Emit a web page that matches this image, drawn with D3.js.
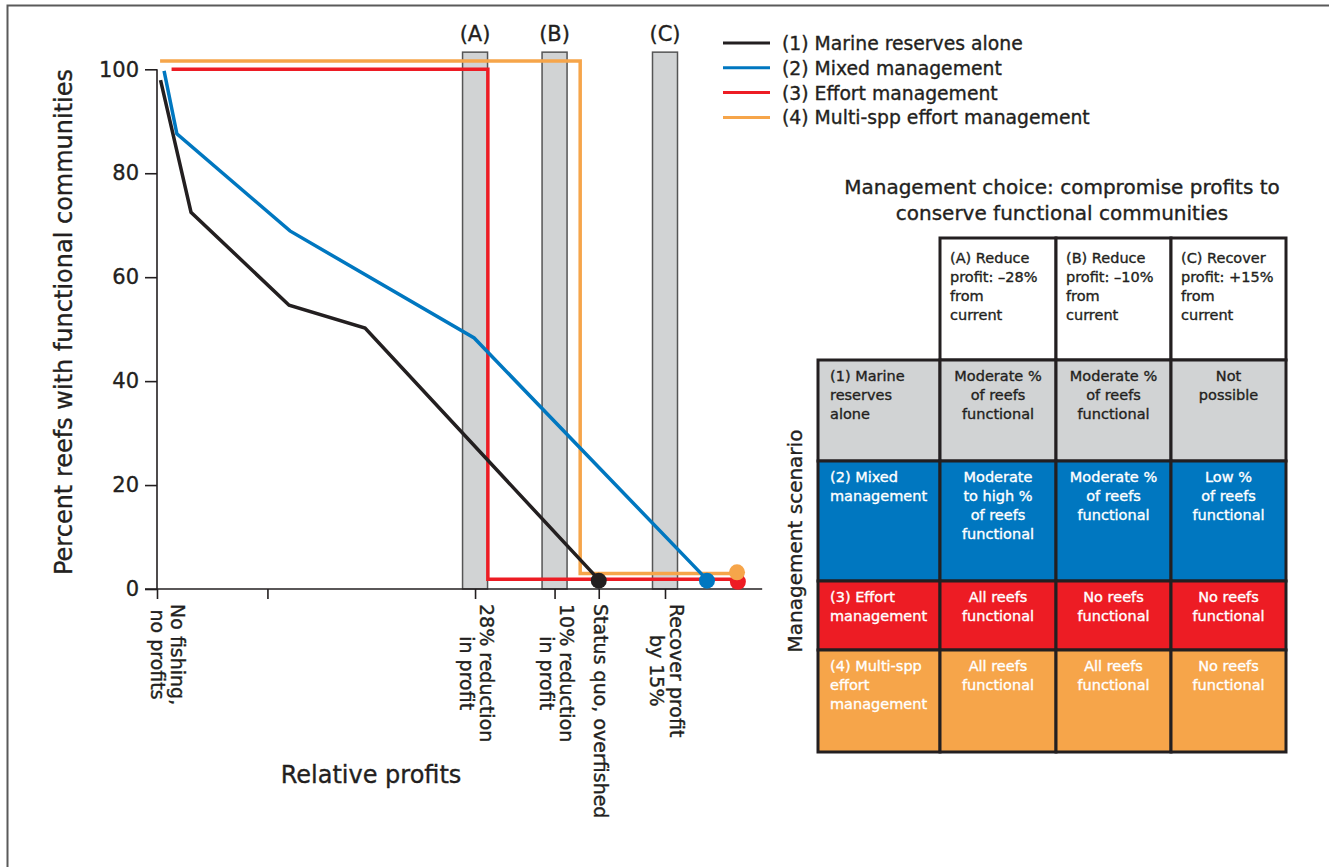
<!DOCTYPE html>
<html>
<head>
<meta charset="utf-8">
<script src="https://cdn.jsdelivr.net/npm/d3@7"></script>
<style>
	body { margin: 0; background: #fff; }
	svg { display: block; font-family: 'DejaVu Sans', 'Liberation Sans', Arial, sans-serif; }
	text { paint-order: stroke; stroke-width: 0.35px; stroke: currentColor; }
</style>
</head>
<body>
<svg id="chart" width="1329" height="867"></svg>
<script>
// relative profits: 0 = no fishing, 1 = status quo
const profitTicks = [0, 0.25, 0.72, 0.9, 1.0, 1.15]
const profitTickLabels = [
	['No fishing,', 'no profits'],
	[],
	['28% reduction', 'in profit'],
	['10% reduction', 'in profit'],
	['Status quo, overfished'],
	['Recover profit', 'by 15%']
]
const reefTicks = [0, 20, 40, 60, 80, 100]

const choiceLabels = ['(A)', '(B)', '(C)']
const choiceProfits = [0.72, 0.9, 1.15]
const choiceBarTop = 103.3

const scenarioNames = ['(1) Marine reserves alone', '(2) Mixed management', '(3) Effort management', '(4) Multi-spp effort management']
const scenarioColors = ['#231f20', '#0077c0', '#ed1c24', '#f6a54a']

// [relative profit, % reefs functional]
const marineReserves = [[0.008, 97.9], [0.077, 72.5], [0.299, 54.6], [0.471, 50.2], [1.0, 1.8]]
const mixedManagement = [[0.016, 99.7], [0.045, 87.6], [0.301, 68.9], [0.718, 48.3], [1.245, 1.8]]
const effortManagement = [[0.033, 100], [0.749, 100], [0.749, 1.9], [1.315, 1.9]]
const multiSppEffort = [[0.007, 101.6], [0.958, 101.6], [0.958, 3.0], [1.313, 3.0]]
const endPoints = [[1.0, 1.6], [1.245, 1.6], [1.315, 1.4], [1.313, 3.2]]

const tableTitle = ['Management choice: compromise profits to', 'conserve functional communities']
const columnHeaders = [
	['(A) Reduce', 'profit: \u201328%', 'from', 'current'],
	['(B) Reduce', 'profit: \u201310%', 'from', 'current'],
	['(C) Recover', 'profit: +15%', 'from', 'current']
]
const rowHeaders = [
	['(1) Marine', 'reserves', 'alone'],
	['(2) Mixed', 'management'],
	['(3) Effort', 'management'],
	['(4) Multi-spp', 'effort', 'management']
]
const rowColors = ['#d1d3d4', '#0077c0', '#ed1c24', '#f6a54a']
const rowTextColors = ['#231f20', '#fff', '#fff', '#fff']
const cellTexts = [
	[['Moderate %', 'of reefs', 'functional'], ['Moderate %', 'of reefs', 'functional'], ['Not', 'possible']],
	[['Moderate', 'to high %', 'of reefs', 'functional'], ['Moderate %', 'of reefs', 'functional'], ['Low %', 'of reefs', 'functional']],
	[['All reefs', 'functional'], ['No reefs', 'functional'], ['No reefs', 'functional']],
	[['All reefs', 'functional'], ['All reefs', 'functional'], ['No reefs', 'functional']]
]

const ink = '#231f20'
const svg = d3.select('#chart').style('color', ink)

// frame
svg.append('path').attr('d', 'M7.5,867 V5.5 H1329').attr('fill', 'none').attr('stroke', '#5a5a5a').attr('stroke-width', 2)

const x = d3.scaleLinear().domain([0, 1.15]).range([157, 665])
const y = d3.scaleLinear().domain([0, 100]).range([589, 69.3])
const xEnd = 1.37
const yTickLen = 12
const firstLabelShift = 9

// bars
const bars = svg.append('g')
bars.selectAll('rect').data(choiceProfits).enter().append('rect')
	.attr('x', d => x(d) - 12.5).attr('width', 25)
	.attr('y', y(choiceBarTop)).attr('height', y(0) - y(choiceBarTop))
	.attr('fill', '#d1d3d4').attr('stroke', '#555').attr('stroke-width', 1.5)
bars.selectAll('text').data(choiceLabels).enter().append('text')
	.attr('x', (d, i) => x(choiceProfits[i])).attr('y', 41)
	.attr('text-anchor', 'middle').attr('font-size', 21)
	.attr('fill', ink).text(d => d)

// axes
const yAxis = d3.axisLeft(y).tickValues(reefTicks).tickSize(yTickLen).tickPadding(6)
const gy = svg.append('g').attr('transform', `translate(${x(0)},0)`).call(yAxis)
gy.select('.domain').attr('d', `M0,${y(100)}V${y(0)}`)

const xAxis = d3.axisBottom(x).tickValues(profitTicks).tickSize(10).tickFormat('')
const gx = svg.append('g').attr('transform', `translate(0,${y(0)})`).call(xAxis)
gx.select('.domain').attr('d', `M${x(0) - yTickLen},0H${x(xEnd)}`)

svg.selectAll('.domain, .tick line').attr('stroke', ink).attr('stroke-width', 1.6)
gy.attr('font-family', null).attr('font-size', null)
gy.selectAll('.tick text').attr('font-size', 21).attr('fill', ink)

// rotated tick labels
const tickLabelG = svg.append('g')
profitTicks.forEach((v, i) => {
	const lines = profitTickLabels[i]
	if (!lines.length) return
	const shift = i === 0 ? firstLabelShift : 0
	const t = tickLabelG.append('text')
		.attr('transform', `translate(${x(v) + shift},604) rotate(90)`)
		.attr('font-size', 19).attr('fill', ink)
		.attr('text-anchor', 'middle')
	const spans = t.selectAll('tspan').data(lines).enter().append('tspan')
		.attr('y', (d, j) => (j - (lines.length - 1) / 2) * 20 + 5)
		.text(d => d)
	const maxLen = d3.max(spans.nodes(), n => n.getComputedTextLength())
	spans.attr('x', maxLen / 2)
})

svg.append('text')
	.attr('x', 371).attr('y', 783).attr('text-anchor', 'middle')
	.attr('font-size', 24).attr('fill', ink)
	.text('Relative profits')
svg.append('text')
	.attr('transform', 'translate(72,322) rotate(-90)').attr('text-anchor', 'middle')
	.attr('font-size', 24).attr('fill', ink)
	.text('Percent reefs with functional communities')

// scenario lines
const line = d3.line().x(d => x(d[0])).y(d => y(d[1]))
const series = [marineReserves, mixedManagement, effortManagement, multiSppEffort]
const drawOrder = [2, 3, 1, 0]
const linesG = svg.append('g')
drawOrder.forEach(i => {
	linesG.append('path').datum(series[i]).attr('d', line)
		.attr('fill', 'none').attr('stroke', scenarioColors[i])
		.attr('stroke-width', 3.5).attr('stroke-linejoin', 'miter')
})
linesG.selectAll('circle').data(drawOrder).enter().append('circle')
	.attr('cx', i => x(endPoints[i][0])).attr('cy', i => y(endPoints[i][1]))
	.attr('r', 8).attr('fill', i => scenarioColors[i])

// legend
const legend = svg.append('g').attr('transform', 'translate(723,43)')
const items = legend.selectAll('g').data(scenarioNames).enter().append('g')
	.attr('transform', (d, i) => `translate(0,${i * 24.8})`)
items.append('line').attr('x1', 0).attr('x2', 47)
	.attr('stroke', (d, i) => scenarioColors[i]).attr('stroke-width', 3)
items.append('text').attr('x', 59).attr('y', 7)
	.attr('font-size', 18.8).attr('fill', ink).text(d => d)

// table
svg.append('g').selectAll('text').data(tableTitle).enter().append('text')
	.attr('x', 1062).attr('y', (d, i) => 194 + i * 26).attr('text-anchor', 'middle')
	.attr('font-size', 20).attr('fill', ink).text(d => d)

const colEdges = [818, 940, 1056, 1171, 1286]
const rowEdges = [238, 360, 461, 581, 650, 752]
const table = svg.append('g')

function cellLines(g, lines, cx, top, anchor, color) {
	const t = g.append('text').attr('font-size', 14.5).attr('fill', color)
		.style('color', color).attr('text-anchor', anchor)
	t.selectAll('tspan').data(lines).enter().append('tspan')
		.attr('x', cx).attr('y', (d, j) => top + 21 + j * 19).text(d => d)
}

// header row
columnHeaders.forEach((lines, c) => {
	table.append('rect').attr('x', colEdges[c + 1]).attr('y', rowEdges[0])
		.attr('width', colEdges[c + 2] - colEdges[c + 1]).attr('height', rowEdges[1] - rowEdges[0])
		.attr('fill', '#fff').attr('stroke', ink).attr('stroke-width', 3)
	cellLines(table, lines, colEdges[c + 1] + 10, rowEdges[0] + 4, 'start', ink)
})

rowHeaders.forEach((lines, r) => {
	const top = rowEdges[r + 1], h = rowEdges[r + 2] - top
	for (let c = 0; c < 4; c++) {
		table.append('rect').attr('x', colEdges[c]).attr('y', top)
			.attr('width', colEdges[c + 1] - colEdges[c]).attr('height', h)
			.attr('fill', rowColors[r]).attr('stroke', ink).attr('stroke-width', 3)
	}
	cellLines(table, lines, colEdges[0] + 12, top, 'start', rowTextColors[r])
	cellTexts[r].forEach((cl, c) => {
		cellLines(table, cl, (colEdges[c + 1] + colEdges[c + 2]) / 2, top, 'middle', rowTextColors[r])
	})
})

svg.append('text')
	.attr('transform', 'translate(802,541) rotate(-90)').attr('text-anchor', 'middle')
	.attr('font-size', 20).attr('fill', ink)
	.text('Management scenario')
</script>
</body>
</html>
